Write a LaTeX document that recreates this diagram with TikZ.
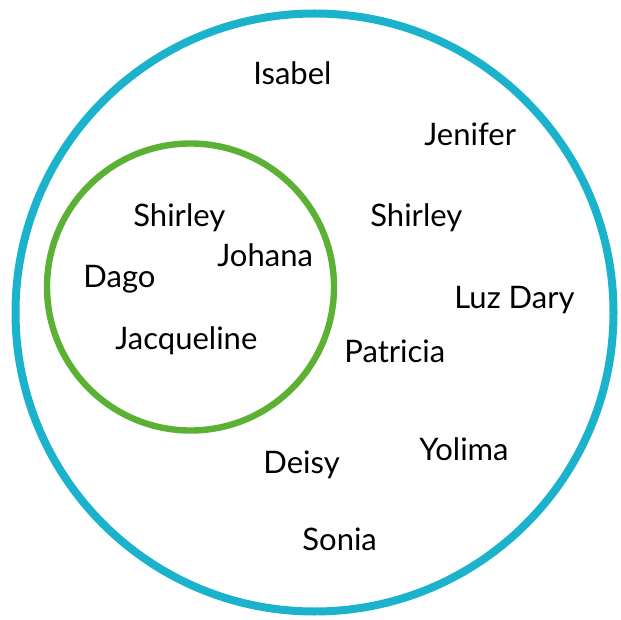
\documentclass[tikz,border=0pt]{standalone}
\usepackage{fontspec}
\setmainfont{Lato}
\definecolor{ringblue}{HTML}{1BB3CC}
\definecolor{ringgreen}{HTML}{5BB134}
\begin{document}
\begin{tikzpicture}[x=0.5pt,y=-0.5pt,
  person/.style={anchor=base west,inner sep=0pt,font=\fontsize{15.5}{18}\selectfont}]
\useasboundingbox (0,0) rectangle (621,620);
\draw[ringblue,line width=4pt] (314.5,312.5) circle[radius=299];
\draw[ringgreen,line width=3.2pt] (190.5,287) circle[radius=143.5];
% inside the green ring
\node[person] (shirleyin) at (133,227) {Shirley};
\node[person] (johana) at (217,267) {Johana};
\node[person] (dago) at (83,288) {Dago};
\node[person] (jacqueline) at (115,350) {Jacqueline};
% outside it
\node[person] (isabel) at (253,85) {Isabel};
\node[person] (jenifer) at (424,146) {Jenifer};
\node[person] (shirleyout) at (370,227) {Shirley};
\node[person] (luzdary) at (454,308) {Luz Dary};
\node[person] (patricia) at (344,362) {Patricia};
\node[person] (yolima) at (419,460) {Yolima};
\node[person] (deisy) at (263,473) {Deisy};
\node[person] (sonia) at (302,550) {Sonia};
\end{tikzpicture}
\end{document}
